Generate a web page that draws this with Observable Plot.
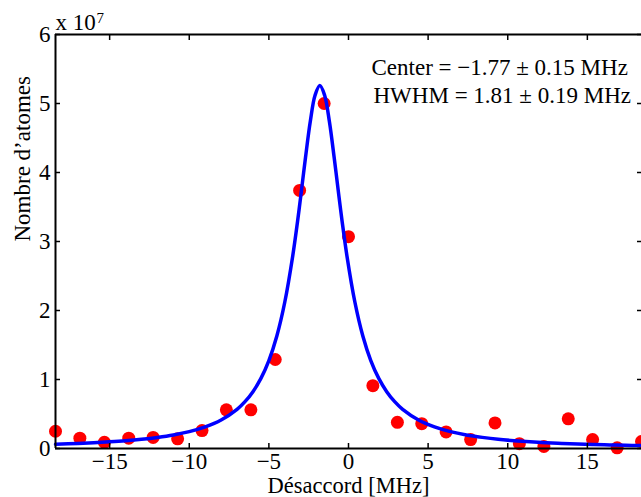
<!DOCTYPE html>
<html><head><meta charset="utf-8">
<script src="https://cdn.jsdelivr.net/npm/d3@7"></script>
<script src="https://cdn.jsdelivr.net/npm/@observablehq/plot@0.6"></script>
<style>body{margin:0;background:#fff}#chart svg{display:block}</style>
</head><body><div id="chart"></div>
<script>
// Measured points (detuning in MHz, atom number in units of 1e7)
const detuning = [-18.4, -16.87, -15.33, -13.8, -12.27, -10.73, -9.2, -7.67, -6.13, -4.6, -3.07, -1.53, 0, 1.53, 3.07, 4.6, 6.13, 7.67, 9.2, 10.73, 12.27, 13.8, 15.33, 16.87, 18.4];
const atoms = [0.25, 0.15, 0.09, 0.15, 0.16, 0.14, 0.26, 0.56, 0.56, 1.29, 3.74, 5.0, 3.07, 0.91, 0.38, 0.36, 0.24, 0.13, 0.37, 0.07, 0.03, 0.43, 0.13, 0.01, 0.10];
// Fitted curve
const fitX = [-18.4, -17, -16, -15, -14, -13, -12, -11, -10, -9, -8, -7, -6.5, -6, -5.5, -5, -4.5, -4, -3.5, -3.2, -3, -2.7, -2.4, -2.1, -1.8, -1.5, -1.2, -0.9, -0.6, -0.4, -0.1, 0.4, 0.9, 1.4, 1.9, 2.4, 2.9, 3.4, 4.4, 5.4, 6.4, 7.4, 8.4, 9.4, 10.4, 11.4, 12.4, 13.4, 14.4, 15.4, 16.4, 17.4, 18.4];
const fitY = [0.062, 0.074, 0.084, 0.097, 0.113, 0.134, 0.161, 0.196, 0.244, 0.313, 0.413, 0.568, 0.679, 0.824, 1.016, 1.275, 1.631, 2.123, 2.795, 3.291, 3.654, 4.217, 4.739, 5.119, 5.26, 5.119, 4.739, 4.217, 3.654, 3.291, 2.795, 2.123, 1.631, 1.275, 1.016, 0.824, 0.679, 0.568, 0.413, 0.313, 0.244, 0.196, 0.161, 0.133, 0.113, 0.097, 0.084, 0.074, 0.065, 0.058, 0.052, 0.046, 0.042];
const xTicks = [-15, -10, -5, 0, 5, 10, 15];
const yTicks = [0, 1, 2, 3, 4, 5, 6];
const xDomain = [-18.4, 18.4];
const yDomain = [0, 6];
const xLabel = "Désaccord [MHz]";
const yLabel = "Nombre d’atomes";
const expText = "x 10";
const expSup = "7";
const annotation = ["Center = −1.77 ± 0.15 MHz", "HWHM = 1.81 ± 0.19 MHz"];

const points = detuning.map((x, i) => ({x, y: atoms[i]}));
const fit = fitX.map((x, i) => ({x, y: fitY[i]}));
const fmt = d => d < 0 ? "\u2212" + Math.abs(d) : String(d);
const font = "Liberation Serif, Times New Roman, serif";

const chart = Plot.plot({
  width: 641,
  height: 497,
  marginLeft: 55,
  marginRight: 0,
  marginTop: 34,
  marginBottom: 49,
  style: {fontFamily: font, fontSize: "23px", color: "black", background: "white", overflow: "visible"},
  x: {domain: xDomain, axis: null},
  y: {domain: yDomain, axis: null},
  marks: [
    Plot.dot(points, {x: "x", y: "y", r: 6.5, fill: "#ff0000", stroke: "none"}),
    Plot.line(fit, {x: "x", y: "y", stroke: "#0000ff", strokeWidth: 3.5, curve: "catmull-rom"}),
    Plot.ruleY([yDomain[0]], {stroke: "black", strokeWidth: 2}),
    Plot.ruleY([yDomain[1]], {stroke: "black", strokeWidth: 2}),
    Plot.ruleX([xDomain[0]], {stroke: "black", strokeWidth: 2}),
    Plot.axisX(xTicks, {anchor: "bottom", tickSize: -5, tickPadding: 9, tickFormat: fmt, label: null, fontSize: 23, strokeWidth: 1.5}),
    Plot.axisX(xTicks, {anchor: "top", tickSize: -5, tickFormat: () => "", label: null, strokeWidth: 1.5}),
    Plot.axisY(yTicks, {anchor: "left", tickSize: -5, tickPadding: 10, tickFormat: fmt, label: null, fontSize: 23, strokeWidth: 1.5}),
    Plot.axisY(yTicks, {anchor: "right", tickSize: -5, tickFormat: () => "", label: null, strokeWidth: 1.5}),
    Plot.text([xLabel], {frameAnchor: "bottom", dy: 37, lineAnchor: "middle", fontSize: 22.5, fill: "black"}),
    Plot.text([yLabel], {frameAnchor: "left", dx: -33, rotate: -90, lineAnchor: "middle", fontSize: 23, fill: "black"}),
    Plot.text([expText], {frameAnchor: "top-left", textAnchor: "start", dx: 0, dy: -12, lineAnchor: "middle", fontSize: 23, fill: "black"}),
    Plot.text([expSup], {frameAnchor: "top-left", textAnchor: "start", dx: 41, dy: -16, lineAnchor: "middle", fontSize: 15, fill: "black"}),
    Plot.text([annotation[0]], {frameAnchor: "top-left", textAnchor: "start", dx: 316, dy: 33, lineAnchor: "middle", fontSize: 23, fill: "black"}),
    Plot.text([annotation[1]], {frameAnchor: "top-left", textAnchor: "start", dx: 318, dy: 61, lineAnchor: "middle", fontSize: 23, fill: "black"})
  ]
});
document.getElementById("chart").appendChild(chart);
</script>
</body></html>
